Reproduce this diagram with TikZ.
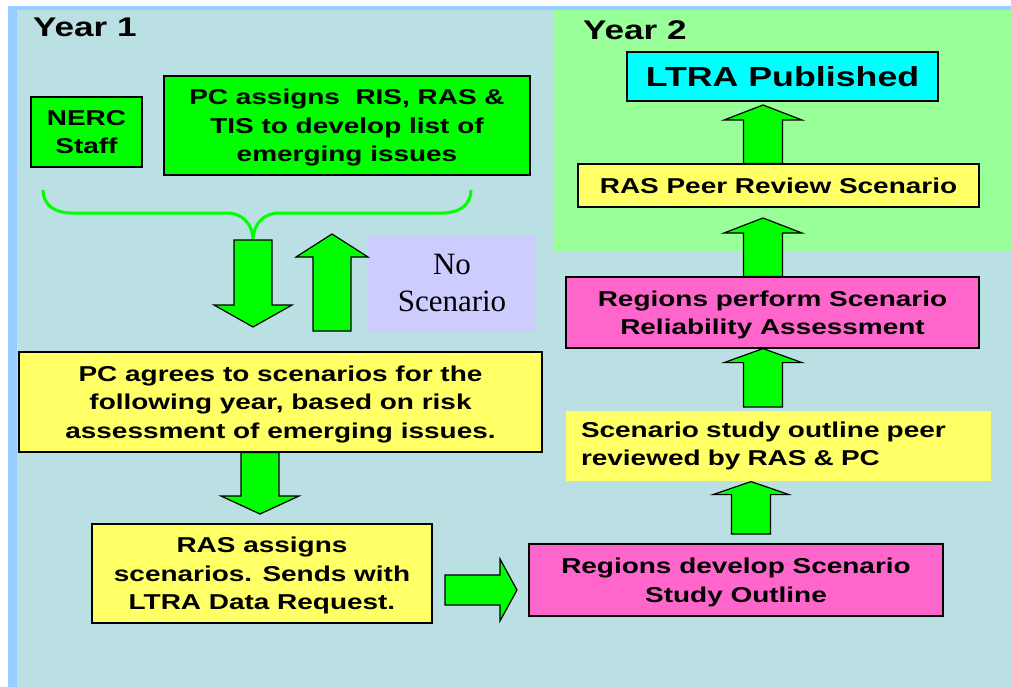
\documentclass[tikz,border=0pt]{standalone}
\usepackage{fontspec}
\setmainfont{Liberation Sans}[FakeStretch=1.3]
\newfontfamily\notefont{Liberation Serif}
\usetikzlibrary{calc,positioning}
\definecolor{bgteal}{HTML}{BBE0E3}
\definecolor{edgeblue}{HTML}{99CCFF}
\definecolor{yeargreen}{HTML}{99FF99}
\definecolor{boxgreen}{HTML}{00FF00}
\definecolor{boxyellow}{HTML}{FFFF66}
\definecolor{boxpink}{HTML}{FF66CC}
\definecolor{boxcyan}{HTML}{00FFFF}
\definecolor{boxlilac}{HTML}{CCCCFF}

\begin{document}
\begin{tikzpicture}[
        x=1pt,y=1pt,
        task/.style={
          draw=black,
          line width=1.2pt,
          inner sep=0pt,
          text depth=0pt,
          align=center,
          font=\bfseries\fontsize{21.5}{28.5}\selectfont
          },
        plainbox/.style={
          task,
          draw=none,
          text depth=
          },
        yearlabel/.style={
          anchor=base west,
          inner sep=0pt,
          font=\bfseries\fontsize{27}{32}\selectfont
          },
        arrowsize/.code args={#1/#2/#3}{\def\bw{#1}\def\hw{#2}\def\hl{#3}},
        blockarrow/.style={
          draw=black,
          line width=1.2pt,
          fill=boxgreen,
          line join=miter,
          to path={
            ($(\tikztostart)!\bw pt!90:(\tikztotarget)$) --
            ($(\tikztotarget)!\hl pt!(\tikztostart)!\bw pt!-90:(\tikztostart)$) --
            ($(\tikztotarget)!\hl pt!(\tikztostart)!\hw pt!-90:(\tikztostart)$) --
            (\tikztotarget) --
            ($(\tikztotarget)!\hl pt!(\tikztostart)!\hw pt!90:(\tikztostart)$) --
            ($(\tikztotarget)!\hl pt!(\tikztostart)!\bw pt!90:(\tikztostart)$) --
            ($(\tikztostart)!\bw pt!-90:(\tikztotarget)$) -- cycle
            }
          },
        bracecurve/.style={
          draw=boxgreen,
          line width=3pt
          }
        ]
        \useasboundingbox (0,0) rectangle (1011,-687);
        \fill[edgeblue] (8,-6) rectangle (1011,-687);
        \fill[bgteal] (17,-10) rectangle (1011,-687);
        \fill[yeargreen] (553,-10) rectangle (1011,-251);

        \node[yearlabel] (year1) at (33,-37) {Year 1};
        \node[yearlabel] (year2) at (583,-40) {Year 2};

        \node[task, fill=boxgreen, minimum width=111pt, minimum height=70pt] (nerc) at (86.5,-132) {NERC\\Staff};
        \node[task, fill=boxgreen, minimum width=366pt, minimum height=99pt] (pcassign) at (347,-125.5) {PC assigns~ RIS, RAS \&\\TIS to develop list of\\emerging issues};
        \node[plainbox, fill=boxlilac, minimum width=168pt, minimum height=96pt, font=\notefont\fontsize{31}{37}\selectfont] (noscen) at (452,-283) {No\\Scenario};
        \node[task, fill=boxyellow, minimum width=523pt, minimum height=100pt] (pcagree) at (280.5,-402) {PC agrees to scenarios for the\\following year, based on risk\\assessment of emerging issues.};
        \node[task, fill=boxyellow, minimum width=340pt, minimum height=99pt] (rasassign) at (262,-573.5) {RAS assigns\\scenarios. Sends with\\LTRA Data Request.};
        \node[task, fill=boxpink, minimum width=414pt, minimum height=72pt] (regdev) at (736,-580) {Regions develop Scenario\\Study Outline};
        \node[plainbox, fill=boxyellow, minimum width=425pt, minimum height=70pt, align=left, text width=395pt] (studyout) at (778.5,-446) {Scenario study outline peer\\reviewed by RAS \& PC};
        \node[task, fill=boxpink, minimum width=413pt, minimum height=71pt] (regperf) at (772.5,-312.5) {Regions perform Scenario\\Reliability Assessment};
        \node[task, fill=boxyellow, minimum width=401pt, minimum height=43pt] (peer) at (778.5,-185.5) {RAS Peer Review Scenario};
        \node[task, fill=boxcyan, minimum width=311pt, minimum height=49pt, font=\bfseries\fontsize{27.5}{32}\selectfont] (ltra) at (782.5,-76.5) {LTRA Published};

        \coordinate (braceL) at (43,-190);
        \coordinate (braceR) at (471,-190);
        \coordinate (bracetip) at (253,-240);
        \draw[bracecurve] (braceL) .. controls +(0,-15) and +(-16,0) .. (71,-213) -- (227,-213)
          .. controls +(16,0) and +(0,15) .. (bracetip)
          .. controls +(0,15) and +(-16,0) .. (279,-213) -- (443,-213)
          .. controls +(16,0) and +(0,-15) .. (braceR);

        \coordinate (a1tip) at (253,-327);
        \coordinate (a2base) at (332,-331);
        \coordinate (a2tip) at (332,-234);
        \coordinate (a3tip) at (260,-514);
        \coordinate (a4base) at (445,-590);
        \coordinate (a4tip) at (517,-590);
        \coordinate (a5base) at (751,-534);
        \coordinate (a6base) at (763,-407);
        \coordinate (a7tip) at (763,-218);
        \coordinate (a8tip) at (763,-105);

        \draw[blockarrow, arrowsize=19/39/22] (bracetip) to (a1tip);
        \draw[blockarrow, arrowsize=19/36/23] (a2base) to (a2tip);
        \draw[blockarrow, arrowsize=19/39/18] (pcagree.south -| a3tip) to (a3tip);
        \draw[blockarrow, arrowsize=15/31/17] (a4base) to (a4tip);
        \draw[blockarrow, arrowsize=19.5/38/13] (a5base) to (studyout.south -| a5base);
        \draw[blockarrow, arrowsize=19.5/39/14] (a6base) to (regperf.south -| a6base);
        \draw[blockarrow, arrowsize=19.5/39/15] (regperf.north -| a6base) to (a7tip);
        \draw[blockarrow, arrowsize=19.5/39/15] (peer.north -| a6base) to (a8tip);
    \end{tikzpicture}
\end{document}
